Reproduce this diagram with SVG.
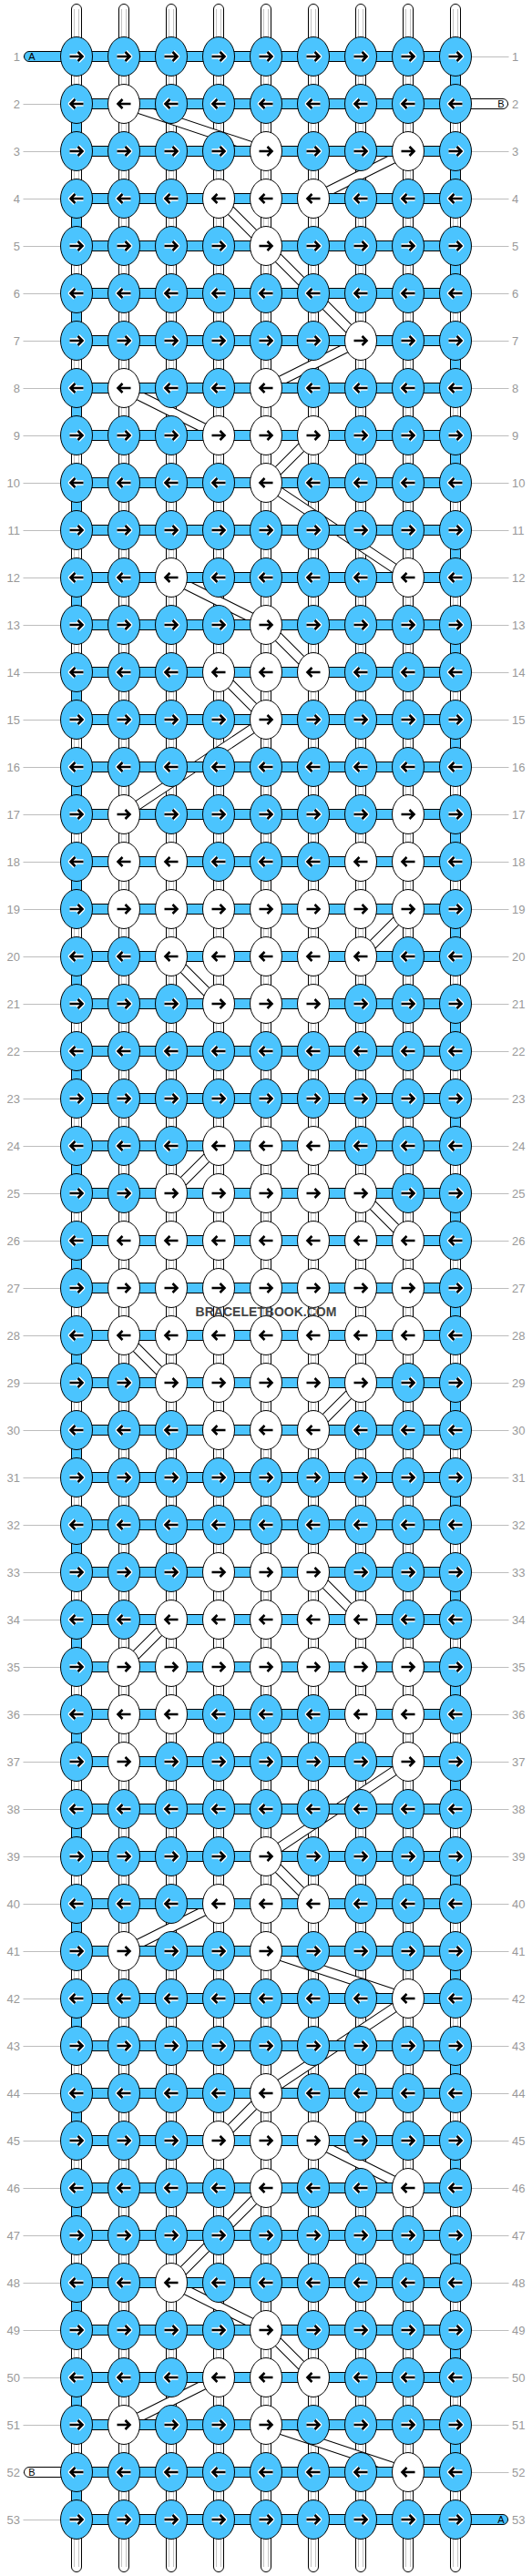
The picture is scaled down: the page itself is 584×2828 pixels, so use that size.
<svg xmlns="http://www.w3.org/2000/svg" xmlns:xlink="http://www.w3.org/1999/xlink" width="584" height="2828" viewBox="0 0 584 2828">
<style>
.kb{fill:#4bc4fe;stroke:#000;stroke-width:1}
.kw{fill:#fff;stroke:#000;stroke-width:1}
.a{fill:none;stroke:#000;stroke-width:2.6}
.ah{fill:none;stroke:#fff;stroke-width:5.4;stroke-linejoin:round}
.ws{fill:#fff;stroke:#000;stroke-width:1}
.wl{fill:none;stroke:#c4c4c4;stroke-width:1}
.hb{fill:#4bc4fe;stroke:#000;stroke-width:1}
.wb{fill:#fff;stroke:#000;stroke-width:1}
.bo{fill:none;stroke:#000;stroke-width:11}
.bi{fill:none;stroke:#fff;stroke-width:9}
.gl{fill:none;stroke:#bdbdbd;stroke-width:41;stroke-dasharray:1 51}
.ll{font-family:"Liberation Sans",Arial,sans-serif;font-size:13px;fill:#999;text-anchor:end}
.lr{font-family:"Liberation Sans",Arial,sans-serif;font-size:13px;fill:#999;text-anchor:start}
.ab{font-family:"Liberation Sans",Arial,sans-serif;font-size:11px;fill:#000;text-anchor:middle}
.wm{font-family:"Liberation Sans",Arial,sans-serif;font-size:14px;font-weight:bold;fill:#444;text-anchor:middle}
</style>
<defs>
<g id="BR"><ellipse class="kb" rx="17.5" ry="21.5"/><path class="ah" d="M-7.5,0H6M1.5,-5L6.5,0L1.5,5"/><path class="a" d="M-7.5,0H6M1.5,-5L6.5,0L1.5,5"/></g>
<g id="BL"><ellipse class="kb" rx="17.5" ry="21.5"/><path class="ah" d="M7.5,0H-6M-1.5,-5L-6.5,0L-1.5,5"/><path class="a" d="M7.5,0H-6M-1.5,-5L-6.5,0L-1.5,5"/></g>
<g id="WR"><ellipse class="kw" rx="17.5" ry="21.5"/><path class="a" d="M-7.5,0H6M1.5,-5L6.5,0L1.5,5"/></g>
<g id="WL"><ellipse class="kw" rx="17.5" ry="21.5"/><path class="a" d="M7.5,0H-6M-1.5,-5L-6.5,0L-1.5,5"/></g>
<rect id="tc" class="hb" width="11" height="18"/>
<path id="bp" d="M136,114L292,166M448,166L344,218M240,218L292,270M292,270L396,374M396,374L292,426M136,426L240,478M344,478L292,530M292,530L448,634M188,634L292,686M292,686L344,738M240,738L292,790M292,790L136,894M448,998L396,1050M188,1050L240,1102M240,1258L188,1310M396,1310L448,1362M136,1466L188,1518M396,1518L344,1570M344,1726L396,1778M188,1778L136,1830M448,1934L292,2038M292,2038L344,2090M240,2090L136,2142M292,2142L448,2194M448,2194L292,2298M292,2298L240,2350M344,2350L448,2402M292,2402L188,2506M188,2506L292,2558M292,2558L344,2610M240,2610L136,2662M292,2662L448,2714"/>
</defs>
<rect width="584" height="2828" fill="#fff"/>
<g id="row-labels">
<line class="gl" x1="46" y1="62" x2="46" y2="2768"/>
<line class="gl" x1="538" y1="62" x2="538" y2="2768"/>
<text class="ll" x="22" y="66.5">1</text><text class="lr" x="562" y="66.5">1</text>
<text class="ll" x="22" y="118.5">2</text><text class="lr" x="562" y="118.5">2</text>
<text class="ll" x="22" y="170.5">3</text><text class="lr" x="562" y="170.5">3</text>
<text class="ll" x="22" y="222.5">4</text><text class="lr" x="562" y="222.5">4</text>
<text class="ll" x="22" y="274.5">5</text><text class="lr" x="562" y="274.5">5</text>
<text class="ll" x="22" y="326.5">6</text><text class="lr" x="562" y="326.5">6</text>
<text class="ll" x="22" y="378.5">7</text><text class="lr" x="562" y="378.5">7</text>
<text class="ll" x="22" y="430.5">8</text><text class="lr" x="562" y="430.5">8</text>
<text class="ll" x="22" y="482.5">9</text><text class="lr" x="562" y="482.5">9</text>
<text class="ll" x="22" y="534.5">10</text><text class="lr" x="562" y="534.5">10</text>
<text class="ll" x="22" y="586.5">11</text><text class="lr" x="562" y="586.5">11</text>
<text class="ll" x="22" y="638.5">12</text><text class="lr" x="562" y="638.5">12</text>
<text class="ll" x="22" y="690.5">13</text><text class="lr" x="562" y="690.5">13</text>
<text class="ll" x="22" y="742.5">14</text><text class="lr" x="562" y="742.5">14</text>
<text class="ll" x="22" y="794.5">15</text><text class="lr" x="562" y="794.5">15</text>
<text class="ll" x="22" y="846.5">16</text><text class="lr" x="562" y="846.5">16</text>
<text class="ll" x="22" y="898.5">17</text><text class="lr" x="562" y="898.5">17</text>
<text class="ll" x="22" y="950.5">18</text><text class="lr" x="562" y="950.5">18</text>
<text class="ll" x="22" y="1002.5">19</text><text class="lr" x="562" y="1002.5">19</text>
<text class="ll" x="22" y="1054.5">20</text><text class="lr" x="562" y="1054.5">20</text>
<text class="ll" x="22" y="1106.5">21</text><text class="lr" x="562" y="1106.5">21</text>
<text class="ll" x="22" y="1158.5">22</text><text class="lr" x="562" y="1158.5">22</text>
<text class="ll" x="22" y="1210.5">23</text><text class="lr" x="562" y="1210.5">23</text>
<text class="ll" x="22" y="1262.5">24</text><text class="lr" x="562" y="1262.5">24</text>
<text class="ll" x="22" y="1314.5">25</text><text class="lr" x="562" y="1314.5">25</text>
<text class="ll" x="22" y="1366.5">26</text><text class="lr" x="562" y="1366.5">26</text>
<text class="ll" x="22" y="1418.5">27</text><text class="lr" x="562" y="1418.5">27</text>
<text class="ll" x="22" y="1470.5">28</text><text class="lr" x="562" y="1470.5">28</text>
<text class="ll" x="22" y="1522.5">29</text><text class="lr" x="562" y="1522.5">29</text>
<text class="ll" x="22" y="1574.5">30</text><text class="lr" x="562" y="1574.5">30</text>
<text class="ll" x="22" y="1626.5">31</text><text class="lr" x="562" y="1626.5">31</text>
<text class="ll" x="22" y="1678.5">32</text><text class="lr" x="562" y="1678.5">32</text>
<text class="ll" x="22" y="1730.5">33</text><text class="lr" x="562" y="1730.5">33</text>
<text class="ll" x="22" y="1782.5">34</text><text class="lr" x="562" y="1782.5">34</text>
<text class="ll" x="22" y="1834.5">35</text><text class="lr" x="562" y="1834.5">35</text>
<text class="ll" x="22" y="1886.5">36</text><text class="lr" x="562" y="1886.5">36</text>
<text class="ll" x="22" y="1938.5">37</text><text class="lr" x="562" y="1938.5">37</text>
<text class="ll" x="22" y="1990.5">38</text><text class="lr" x="562" y="1990.5">38</text>
<text class="ll" x="22" y="2042.5">39</text><text class="lr" x="562" y="2042.5">39</text>
<text class="ll" x="22" y="2094.5">40</text><text class="lr" x="562" y="2094.5">40</text>
<text class="ll" x="22" y="2146.5">41</text><text class="lr" x="562" y="2146.5">41</text>
<text class="ll" x="22" y="2198.5">42</text><text class="lr" x="562" y="2198.5">42</text>
<text class="ll" x="22" y="2250.5">43</text><text class="lr" x="562" y="2250.5">43</text>
<text class="ll" x="22" y="2302.5">44</text><text class="lr" x="562" y="2302.5">44</text>
<text class="ll" x="22" y="2354.5">45</text><text class="lr" x="562" y="2354.5">45</text>
<text class="ll" x="22" y="2406.5">46</text><text class="lr" x="562" y="2406.5">46</text>
<text class="ll" x="22" y="2458.5">47</text><text class="lr" x="562" y="2458.5">47</text>
<text class="ll" x="22" y="2510.5">48</text><text class="lr" x="562" y="2510.5">48</text>
<text class="ll" x="22" y="2562.5">49</text><text class="lr" x="562" y="2562.5">49</text>
<text class="ll" x="22" y="2614.5">50</text><text class="lr" x="562" y="2614.5">50</text>
<text class="ll" x="22" y="2666.5">51</text><text class="lr" x="562" y="2666.5">51</text>
<text class="ll" x="22" y="2718.5">52</text><text class="lr" x="562" y="2718.5">52</text>
<text class="ll" x="22" y="2770.5">53</text><text class="lr" x="562" y="2770.5">53</text>
</g>
<g id="warp-strings">
<rect class="ws" x="78.5" y="4.5" width="11" height="2819" rx="5.5"/>
<rect class="ws" x="130.5" y="4.5" width="11" height="2819" rx="5.5"/>
<rect class="ws" x="182.5" y="4.5" width="11" height="2819" rx="5.5"/>
<rect class="ws" x="234.5" y="4.5" width="11" height="2819" rx="5.5"/>
<rect class="ws" x="286.5" y="4.5" width="11" height="2819" rx="5.5"/>
<rect class="ws" x="338.5" y="4.5" width="11" height="2819" rx="5.5"/>
<rect class="ws" x="390.5" y="4.5" width="11" height="2819" rx="5.5"/>
<rect class="ws" x="442.5" y="4.5" width="11" height="2819" rx="5.5"/>
<rect class="ws" x="494.5" y="4.5" width="11" height="2819" rx="5.5"/>
<path class="wl" d="M81.5,10V2818M86.5,10V2818M133.5,10V2818M138.5,10V2818M185.5,10V2818M190.5,10V2818M237.5,10V2818M242.5,10V2818M289.5,10V2818M294.5,10V2818M341.5,10V2818M346.5,10V2818M393.5,10V2818M398.5,10V2818M445.5,10V2818M450.5,10V2818M497.5,10V2818M502.5,10V2818"/>
</g>
<g id="turns">
<use href="#tc" x="494.5" y="79"/><use href="#tc" x="494.5" y="183"/><use href="#tc" x="494.5" y="287"/><use href="#tc" x="494.5" y="391"/><use href="#tc" x="494.5" y="495"/><use href="#tc" x="494.5" y="599"/><use href="#tc" x="494.5" y="703"/><use href="#tc" x="494.5" y="807"/><use href="#tc" x="494.5" y="911"/><use href="#tc" x="494.5" y="1015"/><use href="#tc" x="494.5" y="1119"/><use href="#tc" x="494.5" y="1223"/><use href="#tc" x="494.5" y="1327"/><use href="#tc" x="494.5" y="1431"/><use href="#tc" x="494.5" y="1535"/><use href="#tc" x="494.5" y="1639"/><use href="#tc" x="494.5" y="1743"/><use href="#tc" x="494.5" y="1847"/><use href="#tc" x="494.5" y="1951"/><use href="#tc" x="494.5" y="2055"/><use href="#tc" x="494.5" y="2159"/><use href="#tc" x="494.5" y="2263"/><use href="#tc" x="494.5" y="2367"/><use href="#tc" x="494.5" y="2471"/><use href="#tc" x="494.5" y="2575"/><use href="#tc" x="494.5" y="2679"/>
<use href="#tc" x="78.5" y="131"/><use href="#tc" x="78.5" y="235"/><use href="#tc" x="78.5" y="339"/><use href="#tc" x="78.5" y="443"/><use href="#tc" x="78.5" y="547"/><use href="#tc" x="78.5" y="651"/><use href="#tc" x="78.5" y="755"/><use href="#tc" x="78.5" y="859"/><use href="#tc" x="78.5" y="963"/><use href="#tc" x="78.5" y="1067"/><use href="#tc" x="78.5" y="1171"/><use href="#tc" x="78.5" y="1275"/><use href="#tc" x="78.5" y="1379"/><use href="#tc" x="78.5" y="1483"/><use href="#tc" x="78.5" y="1587"/><use href="#tc" x="78.5" y="1691"/><use href="#tc" x="78.5" y="1795"/><use href="#tc" x="78.5" y="1899"/><use href="#tc" x="78.5" y="2003"/><use href="#tc" x="78.5" y="2107"/><use href="#tc" x="78.5" y="2211"/><use href="#tc" x="78.5" y="2315"/><use href="#tc" x="78.5" y="2419"/><use href="#tc" x="78.5" y="2523"/><use href="#tc" x="78.5" y="2627"/><use href="#tc" x="78.5" y="2731"/>
</g>
<g id="connectors">
<use href="#bp" class="bo"/>
<use href="#bp" class="bi"/>
</g>
<g id="rows">
<rect class="hb" x="84" y="56.5" width="416" height="11"/><rect class="hb" x="84" y="108.5" width="416" height="11"/><rect class="hb" x="84" y="160.5" width="416" height="11"/><rect class="hb" x="84" y="212.5" width="416" height="11"/><rect class="hb" x="84" y="264.5" width="416" height="11"/><rect class="hb" x="84" y="316.5" width="416" height="11"/><rect class="hb" x="84" y="368.5" width="416" height="11"/><rect class="hb" x="84" y="420.5" width="416" height="11"/><rect class="hb" x="84" y="472.5" width="416" height="11"/><rect class="hb" x="84" y="524.5" width="416" height="11"/><rect class="hb" x="84" y="576.5" width="416" height="11"/><rect class="hb" x="84" y="628.5" width="416" height="11"/><rect class="hb" x="84" y="680.5" width="416" height="11"/><rect class="hb" x="84" y="732.5" width="416" height="11"/><rect class="hb" x="84" y="784.5" width="416" height="11"/><rect class="hb" x="84" y="836.5" width="416" height="11"/><rect class="hb" x="84" y="888.5" width="416" height="11"/><rect class="hb" x="84" y="940.5" width="416" height="11"/><rect class="hb" x="84" y="992.5" width="416" height="11"/><rect class="hb" x="84" y="1044.5" width="416" height="11"/><rect class="hb" x="84" y="1096.5" width="416" height="11"/><rect class="hb" x="84" y="1148.5" width="416" height="11"/><rect class="hb" x="84" y="1200.5" width="416" height="11"/><rect class="hb" x="84" y="1252.5" width="416" height="11"/><rect class="hb" x="84" y="1304.5" width="416" height="11"/><rect class="hb" x="84" y="1356.5" width="416" height="11"/><rect class="hb" x="84" y="1408.5" width="416" height="11"/><rect class="hb" x="84" y="1460.5" width="416" height="11"/><rect class="hb" x="84" y="1512.5" width="416" height="11"/><rect class="hb" x="84" y="1564.5" width="416" height="11"/><rect class="hb" x="84" y="1616.5" width="416" height="11"/><rect class="hb" x="84" y="1668.5" width="416" height="11"/><rect class="hb" x="84" y="1720.5" width="416" height="11"/><rect class="hb" x="84" y="1772.5" width="416" height="11"/><rect class="hb" x="84" y="1824.5" width="416" height="11"/><rect class="hb" x="84" y="1876.5" width="416" height="11"/><rect class="hb" x="84" y="1928.5" width="416" height="11"/><rect class="hb" x="84" y="1980.5" width="416" height="11"/><rect class="hb" x="84" y="2032.5" width="416" height="11"/><rect class="hb" x="84" y="2084.5" width="416" height="11"/><rect class="hb" x="84" y="2136.5" width="416" height="11"/><rect class="hb" x="84" y="2188.5" width="416" height="11"/><rect class="hb" x="84" y="2240.5" width="416" height="11"/><rect class="hb" x="84" y="2292.5" width="416" height="11"/><rect class="hb" x="84" y="2344.5" width="416" height="11"/><rect class="hb" x="84" y="2396.5" width="416" height="11"/><rect class="hb" x="84" y="2448.5" width="416" height="11"/><rect class="hb" x="84" y="2500.5" width="416" height="11"/><rect class="hb" x="84" y="2552.5" width="416" height="11"/><rect class="hb" x="84" y="2604.5" width="416" height="11"/><rect class="hb" x="84" y="2656.5" width="416" height="11"/><rect class="hb" x="84" y="2708.5" width="416" height="11"/><rect class="hb" x="84" y="2760.5" width="416" height="11"/>
</g>
<g id="string-A-start"><rect class="hb" x="26.5" y="56.5" width="64" height="11" rx="5.5"/><text class="ab" x="35" y="66">A</text></g>
<g id="string-B-start"><rect class="wb" x="493.5" y="108.5" width="64" height="11" rx="5.5"/><text class="ab" x="550" y="118">B</text></g>
<g id="string-B-end"><rect class="wb" x="26.5" y="2708.5" width="64" height="11" rx="5.5"/><text class="ab" x="35" y="2718">B</text></g>
<g id="string-A-end"><rect class="hb" x="493.5" y="2760.5" width="64" height="11" rx="5.5"/><text class="ab" x="550" y="2770">A</text></g>
<g id="knots">
<g id="k1-1"><use href="#BR" x="84" y="62"/></g><g id="k1-2"><use href="#BR" x="136" y="62"/></g><g id="k1-3"><use href="#BR" x="188" y="62"/></g><g id="k1-4"><use href="#BR" x="240" y="62"/></g><g id="k1-5"><use href="#BR" x="292" y="62"/></g><g id="k1-6"><use href="#BR" x="344" y="62"/></g><g id="k1-7"><use href="#BR" x="396" y="62"/></g><g id="k1-8"><use href="#BR" x="448" y="62"/></g><g id="k1-9"><use href="#BR" x="500" y="62"/></g>
<g id="k2-1"><use href="#BL" x="84" y="114"/></g><g id="k2-2"><use href="#WL" x="136" y="114"/></g><g id="k2-3"><use href="#BL" x="188" y="114"/></g><g id="k2-4"><use href="#BL" x="240" y="114"/></g><g id="k2-5"><use href="#BL" x="292" y="114"/></g><g id="k2-6"><use href="#BL" x="344" y="114"/></g><g id="k2-7"><use href="#BL" x="396" y="114"/></g><g id="k2-8"><use href="#BL" x="448" y="114"/></g><g id="k2-9"><use href="#BL" x="500" y="114"/></g>
<g id="k3-1"><use href="#BR" x="84" y="166"/></g><g id="k3-2"><use href="#BR" x="136" y="166"/></g><g id="k3-3"><use href="#BR" x="188" y="166"/></g><g id="k3-4"><use href="#BR" x="240" y="166"/></g><g id="k3-5"><use href="#WR" x="292" y="166"/></g><g id="k3-6"><use href="#BR" x="344" y="166"/></g><g id="k3-7"><use href="#BR" x="396" y="166"/></g><g id="k3-8"><use href="#WR" x="448" y="166"/></g><g id="k3-9"><use href="#BR" x="500" y="166"/></g>
<g id="k4-1"><use href="#BL" x="84" y="218"/></g><g id="k4-2"><use href="#BL" x="136" y="218"/></g><g id="k4-3"><use href="#BL" x="188" y="218"/></g><g id="k4-4"><use href="#WL" x="240" y="218"/></g><g id="k4-5"><use href="#WL" x="292" y="218"/></g><g id="k4-6"><use href="#WL" x="344" y="218"/></g><g id="k4-7"><use href="#BL" x="396" y="218"/></g><g id="k4-8"><use href="#BL" x="448" y="218"/></g><g id="k4-9"><use href="#BL" x="500" y="218"/></g>
<g id="k5-1"><use href="#BR" x="84" y="270"/></g><g id="k5-2"><use href="#BR" x="136" y="270"/></g><g id="k5-3"><use href="#BR" x="188" y="270"/></g><g id="k5-4"><use href="#BR" x="240" y="270"/></g><g id="k5-5"><use href="#WR" x="292" y="270"/></g><g id="k5-6"><use href="#BR" x="344" y="270"/></g><g id="k5-7"><use href="#BR" x="396" y="270"/></g><g id="k5-8"><use href="#BR" x="448" y="270"/></g><g id="k5-9"><use href="#BR" x="500" y="270"/></g>
<g id="k6-1"><use href="#BL" x="84" y="322"/></g><g id="k6-2"><use href="#BL" x="136" y="322"/></g><g id="k6-3"><use href="#BL" x="188" y="322"/></g><g id="k6-4"><use href="#BL" x="240" y="322"/></g><g id="k6-5"><use href="#BL" x="292" y="322"/></g><g id="k6-6"><use href="#BL" x="344" y="322"/></g><g id="k6-7"><use href="#BL" x="396" y="322"/></g><g id="k6-8"><use href="#BL" x="448" y="322"/></g><g id="k6-9"><use href="#BL" x="500" y="322"/></g>
<g id="k7-1"><use href="#BR" x="84" y="374"/></g><g id="k7-2"><use href="#BR" x="136" y="374"/></g><g id="k7-3"><use href="#BR" x="188" y="374"/></g><g id="k7-4"><use href="#BR" x="240" y="374"/></g><g id="k7-5"><use href="#BR" x="292" y="374"/></g><g id="k7-6"><use href="#BR" x="344" y="374"/></g><g id="k7-7"><use href="#WR" x="396" y="374"/></g><g id="k7-8"><use href="#BR" x="448" y="374"/></g><g id="k7-9"><use href="#BR" x="500" y="374"/></g>
<g id="k8-1"><use href="#BL" x="84" y="426"/></g><g id="k8-2"><use href="#WL" x="136" y="426"/></g><g id="k8-3"><use href="#BL" x="188" y="426"/></g><g id="k8-4"><use href="#BL" x="240" y="426"/></g><g id="k8-5"><use href="#WL" x="292" y="426"/></g><g id="k8-6"><use href="#BL" x="344" y="426"/></g><g id="k8-7"><use href="#BL" x="396" y="426"/></g><g id="k8-8"><use href="#BL" x="448" y="426"/></g><g id="k8-9"><use href="#BL" x="500" y="426"/></g>
<g id="k9-1"><use href="#BR" x="84" y="478"/></g><g id="k9-2"><use href="#BR" x="136" y="478"/></g><g id="k9-3"><use href="#BR" x="188" y="478"/></g><g id="k9-4"><use href="#WR" x="240" y="478"/></g><g id="k9-5"><use href="#WR" x="292" y="478"/></g><g id="k9-6"><use href="#WR" x="344" y="478"/></g><g id="k9-7"><use href="#BR" x="396" y="478"/></g><g id="k9-8"><use href="#BR" x="448" y="478"/></g><g id="k9-9"><use href="#BR" x="500" y="478"/></g>
<g id="k10-1"><use href="#BL" x="84" y="530"/></g><g id="k10-2"><use href="#BL" x="136" y="530"/></g><g id="k10-3"><use href="#BL" x="188" y="530"/></g><g id="k10-4"><use href="#BL" x="240" y="530"/></g><g id="k10-5"><use href="#WL" x="292" y="530"/></g><g id="k10-6"><use href="#BL" x="344" y="530"/></g><g id="k10-7"><use href="#BL" x="396" y="530"/></g><g id="k10-8"><use href="#BL" x="448" y="530"/></g><g id="k10-9"><use href="#BL" x="500" y="530"/></g>
<g id="k11-1"><use href="#BR" x="84" y="582"/></g><g id="k11-2"><use href="#BR" x="136" y="582"/></g><g id="k11-3"><use href="#BR" x="188" y="582"/></g><g id="k11-4"><use href="#BR" x="240" y="582"/></g><g id="k11-5"><use href="#BR" x="292" y="582"/></g><g id="k11-6"><use href="#BR" x="344" y="582"/></g><g id="k11-7"><use href="#BR" x="396" y="582"/></g><g id="k11-8"><use href="#BR" x="448" y="582"/></g><g id="k11-9"><use href="#BR" x="500" y="582"/></g>
<g id="k12-1"><use href="#BL" x="84" y="634"/></g><g id="k12-2"><use href="#BL" x="136" y="634"/></g><g id="k12-3"><use href="#WL" x="188" y="634"/></g><g id="k12-4"><use href="#BL" x="240" y="634"/></g><g id="k12-5"><use href="#BL" x="292" y="634"/></g><g id="k12-6"><use href="#BL" x="344" y="634"/></g><g id="k12-7"><use href="#BL" x="396" y="634"/></g><g id="k12-8"><use href="#WL" x="448" y="634"/></g><g id="k12-9"><use href="#BL" x="500" y="634"/></g>
<g id="k13-1"><use href="#BR" x="84" y="686"/></g><g id="k13-2"><use href="#BR" x="136" y="686"/></g><g id="k13-3"><use href="#BR" x="188" y="686"/></g><g id="k13-4"><use href="#BR" x="240" y="686"/></g><g id="k13-5"><use href="#WR" x="292" y="686"/></g><g id="k13-6"><use href="#BR" x="344" y="686"/></g><g id="k13-7"><use href="#BR" x="396" y="686"/></g><g id="k13-8"><use href="#BR" x="448" y="686"/></g><g id="k13-9"><use href="#BR" x="500" y="686"/></g>
<g id="k14-1"><use href="#BL" x="84" y="738"/></g><g id="k14-2"><use href="#BL" x="136" y="738"/></g><g id="k14-3"><use href="#BL" x="188" y="738"/></g><g id="k14-4"><use href="#WL" x="240" y="738"/></g><g id="k14-5"><use href="#WL" x="292" y="738"/></g><g id="k14-6"><use href="#WL" x="344" y="738"/></g><g id="k14-7"><use href="#BL" x="396" y="738"/></g><g id="k14-8"><use href="#BL" x="448" y="738"/></g><g id="k14-9"><use href="#BL" x="500" y="738"/></g>
<g id="k15-1"><use href="#BR" x="84" y="790"/></g><g id="k15-2"><use href="#BR" x="136" y="790"/></g><g id="k15-3"><use href="#BR" x="188" y="790"/></g><g id="k15-4"><use href="#BR" x="240" y="790"/></g><g id="k15-5"><use href="#WR" x="292" y="790"/></g><g id="k15-6"><use href="#BR" x="344" y="790"/></g><g id="k15-7"><use href="#BR" x="396" y="790"/></g><g id="k15-8"><use href="#BR" x="448" y="790"/></g><g id="k15-9"><use href="#BR" x="500" y="790"/></g>
<g id="k16-1"><use href="#BL" x="84" y="842"/></g><g id="k16-2"><use href="#BL" x="136" y="842"/></g><g id="k16-3"><use href="#BL" x="188" y="842"/></g><g id="k16-4"><use href="#BL" x="240" y="842"/></g><g id="k16-5"><use href="#BL" x="292" y="842"/></g><g id="k16-6"><use href="#BL" x="344" y="842"/></g><g id="k16-7"><use href="#BL" x="396" y="842"/></g><g id="k16-8"><use href="#BL" x="448" y="842"/></g><g id="k16-9"><use href="#BL" x="500" y="842"/></g>
<g id="k17-1"><use href="#BR" x="84" y="894"/></g><g id="k17-2"><use href="#WR" x="136" y="894"/></g><g id="k17-3"><use href="#BR" x="188" y="894"/></g><g id="k17-4"><use href="#BR" x="240" y="894"/></g><g id="k17-5"><use href="#BR" x="292" y="894"/></g><g id="k17-6"><use href="#BR" x="344" y="894"/></g><g id="k17-7"><use href="#BR" x="396" y="894"/></g><g id="k17-8"><use href="#WR" x="448" y="894"/></g><g id="k17-9"><use href="#BR" x="500" y="894"/></g>
<g id="k18-1"><use href="#BL" x="84" y="946"/></g><g id="k18-2"><use href="#WL" x="136" y="946"/></g><g id="k18-3"><use href="#WL" x="188" y="946"/></g><g id="k18-4"><use href="#BL" x="240" y="946"/></g><g id="k18-5"><use href="#BL" x="292" y="946"/></g><g id="k18-6"><use href="#BL" x="344" y="946"/></g><g id="k18-7"><use href="#WL" x="396" y="946"/></g><g id="k18-8"><use href="#WL" x="448" y="946"/></g><g id="k18-9"><use href="#BL" x="500" y="946"/></g>
<g id="k19-1"><use href="#BR" x="84" y="998"/></g><g id="k19-2"><use href="#WR" x="136" y="998"/></g><g id="k19-3"><use href="#WR" x="188" y="998"/></g><g id="k19-4"><use href="#WR" x="240" y="998"/></g><g id="k19-5"><use href="#WR" x="292" y="998"/></g><g id="k19-6"><use href="#WR" x="344" y="998"/></g><g id="k19-7"><use href="#WR" x="396" y="998"/></g><g id="k19-8"><use href="#WR" x="448" y="998"/></g><g id="k19-9"><use href="#BR" x="500" y="998"/></g>
<g id="k20-1"><use href="#BL" x="84" y="1050"/></g><g id="k20-2"><use href="#BL" x="136" y="1050"/></g><g id="k20-3"><use href="#WL" x="188" y="1050"/></g><g id="k20-4"><use href="#WL" x="240" y="1050"/></g><g id="k20-5"><use href="#WL" x="292" y="1050"/></g><g id="k20-6"><use href="#WL" x="344" y="1050"/></g><g id="k20-7"><use href="#WL" x="396" y="1050"/></g><g id="k20-8"><use href="#BL" x="448" y="1050"/></g><g id="k20-9"><use href="#BL" x="500" y="1050"/></g>
<g id="k21-1"><use href="#BR" x="84" y="1102"/></g><g id="k21-2"><use href="#BR" x="136" y="1102"/></g><g id="k21-3"><use href="#BR" x="188" y="1102"/></g><g id="k21-4"><use href="#WR" x="240" y="1102"/></g><g id="k21-5"><use href="#WR" x="292" y="1102"/></g><g id="k21-6"><use href="#WR" x="344" y="1102"/></g><g id="k21-7"><use href="#BR" x="396" y="1102"/></g><g id="k21-8"><use href="#BR" x="448" y="1102"/></g><g id="k21-9"><use href="#BR" x="500" y="1102"/></g>
<g id="k22-1"><use href="#BL" x="84" y="1154"/></g><g id="k22-2"><use href="#BL" x="136" y="1154"/></g><g id="k22-3"><use href="#BL" x="188" y="1154"/></g><g id="k22-4"><use href="#BL" x="240" y="1154"/></g><g id="k22-5"><use href="#BL" x="292" y="1154"/></g><g id="k22-6"><use href="#BL" x="344" y="1154"/></g><g id="k22-7"><use href="#BL" x="396" y="1154"/></g><g id="k22-8"><use href="#BL" x="448" y="1154"/></g><g id="k22-9"><use href="#BL" x="500" y="1154"/></g>
<g id="k23-1"><use href="#BR" x="84" y="1206"/></g><g id="k23-2"><use href="#BR" x="136" y="1206"/></g><g id="k23-3"><use href="#BR" x="188" y="1206"/></g><g id="k23-4"><use href="#BR" x="240" y="1206"/></g><g id="k23-5"><use href="#BR" x="292" y="1206"/></g><g id="k23-6"><use href="#BR" x="344" y="1206"/></g><g id="k23-7"><use href="#BR" x="396" y="1206"/></g><g id="k23-8"><use href="#BR" x="448" y="1206"/></g><g id="k23-9"><use href="#BR" x="500" y="1206"/></g>
<g id="k24-1"><use href="#BL" x="84" y="1258"/></g><g id="k24-2"><use href="#BL" x="136" y="1258"/></g><g id="k24-3"><use href="#BL" x="188" y="1258"/></g><g id="k24-4"><use href="#WL" x="240" y="1258"/></g><g id="k24-5"><use href="#WL" x="292" y="1258"/></g><g id="k24-6"><use href="#WL" x="344" y="1258"/></g><g id="k24-7"><use href="#BL" x="396" y="1258"/></g><g id="k24-8"><use href="#BL" x="448" y="1258"/></g><g id="k24-9"><use href="#BL" x="500" y="1258"/></g>
<g id="k25-1"><use href="#BR" x="84" y="1310"/></g><g id="k25-2"><use href="#BR" x="136" y="1310"/></g><g id="k25-3"><use href="#WR" x="188" y="1310"/></g><g id="k25-4"><use href="#WR" x="240" y="1310"/></g><g id="k25-5"><use href="#WR" x="292" y="1310"/></g><g id="k25-6"><use href="#WR" x="344" y="1310"/></g><g id="k25-7"><use href="#WR" x="396" y="1310"/></g><g id="k25-8"><use href="#BR" x="448" y="1310"/></g><g id="k25-9"><use href="#BR" x="500" y="1310"/></g>
<g id="k26-1"><use href="#BL" x="84" y="1362"/></g><g id="k26-2"><use href="#WL" x="136" y="1362"/></g><g id="k26-3"><use href="#WL" x="188" y="1362"/></g><g id="k26-4"><use href="#WL" x="240" y="1362"/></g><g id="k26-5"><use href="#WL" x="292" y="1362"/></g><g id="k26-6"><use href="#WL" x="344" y="1362"/></g><g id="k26-7"><use href="#WL" x="396" y="1362"/></g><g id="k26-8"><use href="#WL" x="448" y="1362"/></g><g id="k26-9"><use href="#BL" x="500" y="1362"/></g>
<g id="k27-1"><use href="#BR" x="84" y="1414"/></g><g id="k27-2"><use href="#WR" x="136" y="1414"/></g><g id="k27-3"><use href="#WR" x="188" y="1414"/></g><g id="k27-4"><use href="#WR" x="240" y="1414"/></g><g id="k27-5"><use href="#WR" x="292" y="1414"/></g><g id="k27-6"><use href="#WR" x="344" y="1414"/></g><g id="k27-7"><use href="#WR" x="396" y="1414"/></g><g id="k27-8"><use href="#WR" x="448" y="1414"/></g><g id="k27-9"><use href="#BR" x="500" y="1414"/></g>
<g id="k28-1"><use href="#BL" x="84" y="1466"/></g><g id="k28-2"><use href="#WL" x="136" y="1466"/></g><g id="k28-3"><use href="#WL" x="188" y="1466"/></g><g id="k28-4"><use href="#WL" x="240" y="1466"/></g><g id="k28-5"><use href="#WL" x="292" y="1466"/></g><g id="k28-6"><use href="#WL" x="344" y="1466"/></g><g id="k28-7"><use href="#WL" x="396" y="1466"/></g><g id="k28-8"><use href="#WL" x="448" y="1466"/></g><g id="k28-9"><use href="#BL" x="500" y="1466"/></g>
<g id="k29-1"><use href="#BR" x="84" y="1518"/></g><g id="k29-2"><use href="#BR" x="136" y="1518"/></g><g id="k29-3"><use href="#WR" x="188" y="1518"/></g><g id="k29-4"><use href="#WR" x="240" y="1518"/></g><g id="k29-5"><use href="#WR" x="292" y="1518"/></g><g id="k29-6"><use href="#WR" x="344" y="1518"/></g><g id="k29-7"><use href="#WR" x="396" y="1518"/></g><g id="k29-8"><use href="#BR" x="448" y="1518"/></g><g id="k29-9"><use href="#BR" x="500" y="1518"/></g>
<g id="k30-1"><use href="#BL" x="84" y="1570"/></g><g id="k30-2"><use href="#BL" x="136" y="1570"/></g><g id="k30-3"><use href="#BL" x="188" y="1570"/></g><g id="k30-4"><use href="#WL" x="240" y="1570"/></g><g id="k30-5"><use href="#WL" x="292" y="1570"/></g><g id="k30-6"><use href="#WL" x="344" y="1570"/></g><g id="k30-7"><use href="#BL" x="396" y="1570"/></g><g id="k30-8"><use href="#BL" x="448" y="1570"/></g><g id="k30-9"><use href="#BL" x="500" y="1570"/></g>
<g id="k31-1"><use href="#BR" x="84" y="1622"/></g><g id="k31-2"><use href="#BR" x="136" y="1622"/></g><g id="k31-3"><use href="#BR" x="188" y="1622"/></g><g id="k31-4"><use href="#BR" x="240" y="1622"/></g><g id="k31-5"><use href="#BR" x="292" y="1622"/></g><g id="k31-6"><use href="#BR" x="344" y="1622"/></g><g id="k31-7"><use href="#BR" x="396" y="1622"/></g><g id="k31-8"><use href="#BR" x="448" y="1622"/></g><g id="k31-9"><use href="#BR" x="500" y="1622"/></g>
<g id="k32-1"><use href="#BL" x="84" y="1674"/></g><g id="k32-2"><use href="#BL" x="136" y="1674"/></g><g id="k32-3"><use href="#BL" x="188" y="1674"/></g><g id="k32-4"><use href="#BL" x="240" y="1674"/></g><g id="k32-5"><use href="#BL" x="292" y="1674"/></g><g id="k32-6"><use href="#BL" x="344" y="1674"/></g><g id="k32-7"><use href="#BL" x="396" y="1674"/></g><g id="k32-8"><use href="#BL" x="448" y="1674"/></g><g id="k32-9"><use href="#BL" x="500" y="1674"/></g>
<g id="k33-1"><use href="#BR" x="84" y="1726"/></g><g id="k33-2"><use href="#BR" x="136" y="1726"/></g><g id="k33-3"><use href="#BR" x="188" y="1726"/></g><g id="k33-4"><use href="#WR" x="240" y="1726"/></g><g id="k33-5"><use href="#WR" x="292" y="1726"/></g><g id="k33-6"><use href="#WR" x="344" y="1726"/></g><g id="k33-7"><use href="#BR" x="396" y="1726"/></g><g id="k33-8"><use href="#BR" x="448" y="1726"/></g><g id="k33-9"><use href="#BR" x="500" y="1726"/></g>
<g id="k34-1"><use href="#BL" x="84" y="1778"/></g><g id="k34-2"><use href="#BL" x="136" y="1778"/></g><g id="k34-3"><use href="#WL" x="188" y="1778"/></g><g id="k34-4"><use href="#WL" x="240" y="1778"/></g><g id="k34-5"><use href="#WL" x="292" y="1778"/></g><g id="k34-6"><use href="#WL" x="344" y="1778"/></g><g id="k34-7"><use href="#WL" x="396" y="1778"/></g><g id="k34-8"><use href="#BL" x="448" y="1778"/></g><g id="k34-9"><use href="#BL" x="500" y="1778"/></g>
<g id="k35-1"><use href="#BR" x="84" y="1830"/></g><g id="k35-2"><use href="#WR" x="136" y="1830"/></g><g id="k35-3"><use href="#WR" x="188" y="1830"/></g><g id="k35-4"><use href="#WR" x="240" y="1830"/></g><g id="k35-5"><use href="#WR" x="292" y="1830"/></g><g id="k35-6"><use href="#WR" x="344" y="1830"/></g><g id="k35-7"><use href="#WR" x="396" y="1830"/></g><g id="k35-8"><use href="#WR" x="448" y="1830"/></g><g id="k35-9"><use href="#BR" x="500" y="1830"/></g>
<g id="k36-1"><use href="#BL" x="84" y="1882"/></g><g id="k36-2"><use href="#WL" x="136" y="1882"/></g><g id="k36-3"><use href="#WL" x="188" y="1882"/></g><g id="k36-4"><use href="#BL" x="240" y="1882"/></g><g id="k36-5"><use href="#BL" x="292" y="1882"/></g><g id="k36-6"><use href="#BL" x="344" y="1882"/></g><g id="k36-7"><use href="#WL" x="396" y="1882"/></g><g id="k36-8"><use href="#WL" x="448" y="1882"/></g><g id="k36-9"><use href="#BL" x="500" y="1882"/></g>
<g id="k37-1"><use href="#BR" x="84" y="1934"/></g><g id="k37-2"><use href="#WR" x="136" y="1934"/></g><g id="k37-3"><use href="#BR" x="188" y="1934"/></g><g id="k37-4"><use href="#BR" x="240" y="1934"/></g><g id="k37-5"><use href="#BR" x="292" y="1934"/></g><g id="k37-6"><use href="#BR" x="344" y="1934"/></g><g id="k37-7"><use href="#BR" x="396" y="1934"/></g><g id="k37-8"><use href="#WR" x="448" y="1934"/></g><g id="k37-9"><use href="#BR" x="500" y="1934"/></g>
<g id="k38-1"><use href="#BL" x="84" y="1986"/></g><g id="k38-2"><use href="#BL" x="136" y="1986"/></g><g id="k38-3"><use href="#BL" x="188" y="1986"/></g><g id="k38-4"><use href="#BL" x="240" y="1986"/></g><g id="k38-5"><use href="#BL" x="292" y="1986"/></g><g id="k38-6"><use href="#BL" x="344" y="1986"/></g><g id="k38-7"><use href="#BL" x="396" y="1986"/></g><g id="k38-8"><use href="#BL" x="448" y="1986"/></g><g id="k38-9"><use href="#BL" x="500" y="1986"/></g>
<g id="k39-1"><use href="#BR" x="84" y="2038"/></g><g id="k39-2"><use href="#BR" x="136" y="2038"/></g><g id="k39-3"><use href="#BR" x="188" y="2038"/></g><g id="k39-4"><use href="#BR" x="240" y="2038"/></g><g id="k39-5"><use href="#WR" x="292" y="2038"/></g><g id="k39-6"><use href="#BR" x="344" y="2038"/></g><g id="k39-7"><use href="#BR" x="396" y="2038"/></g><g id="k39-8"><use href="#BR" x="448" y="2038"/></g><g id="k39-9"><use href="#BR" x="500" y="2038"/></g>
<g id="k40-1"><use href="#BL" x="84" y="2090"/></g><g id="k40-2"><use href="#BL" x="136" y="2090"/></g><g id="k40-3"><use href="#BL" x="188" y="2090"/></g><g id="k40-4"><use href="#WL" x="240" y="2090"/></g><g id="k40-5"><use href="#WL" x="292" y="2090"/></g><g id="k40-6"><use href="#WL" x="344" y="2090"/></g><g id="k40-7"><use href="#BL" x="396" y="2090"/></g><g id="k40-8"><use href="#BL" x="448" y="2090"/></g><g id="k40-9"><use href="#BL" x="500" y="2090"/></g>
<g id="k41-1"><use href="#BR" x="84" y="2142"/></g><g id="k41-2"><use href="#WR" x="136" y="2142"/></g><g id="k41-3"><use href="#BR" x="188" y="2142"/></g><g id="k41-4"><use href="#BR" x="240" y="2142"/></g><g id="k41-5"><use href="#WR" x="292" y="2142"/></g><g id="k41-6"><use href="#BR" x="344" y="2142"/></g><g id="k41-7"><use href="#BR" x="396" y="2142"/></g><g id="k41-8"><use href="#BR" x="448" y="2142"/></g><g id="k41-9"><use href="#BR" x="500" y="2142"/></g>
<g id="k42-1"><use href="#BL" x="84" y="2194"/></g><g id="k42-2"><use href="#BL" x="136" y="2194"/></g><g id="k42-3"><use href="#BL" x="188" y="2194"/></g><g id="k42-4"><use href="#BL" x="240" y="2194"/></g><g id="k42-5"><use href="#BL" x="292" y="2194"/></g><g id="k42-6"><use href="#BL" x="344" y="2194"/></g><g id="k42-7"><use href="#BL" x="396" y="2194"/></g><g id="k42-8"><use href="#WL" x="448" y="2194"/></g><g id="k42-9"><use href="#BL" x="500" y="2194"/></g>
<g id="k43-1"><use href="#BR" x="84" y="2246"/></g><g id="k43-2"><use href="#BR" x="136" y="2246"/></g><g id="k43-3"><use href="#BR" x="188" y="2246"/></g><g id="k43-4"><use href="#BR" x="240" y="2246"/></g><g id="k43-5"><use href="#BR" x="292" y="2246"/></g><g id="k43-6"><use href="#BR" x="344" y="2246"/></g><g id="k43-7"><use href="#BR" x="396" y="2246"/></g><g id="k43-8"><use href="#BR" x="448" y="2246"/></g><g id="k43-9"><use href="#BR" x="500" y="2246"/></g>
<g id="k44-1"><use href="#BL" x="84" y="2298"/></g><g id="k44-2"><use href="#BL" x="136" y="2298"/></g><g id="k44-3"><use href="#BL" x="188" y="2298"/></g><g id="k44-4"><use href="#BL" x="240" y="2298"/></g><g id="k44-5"><use href="#WL" x="292" y="2298"/></g><g id="k44-6"><use href="#BL" x="344" y="2298"/></g><g id="k44-7"><use href="#BL" x="396" y="2298"/></g><g id="k44-8"><use href="#BL" x="448" y="2298"/></g><g id="k44-9"><use href="#BL" x="500" y="2298"/></g>
<g id="k45-1"><use href="#BR" x="84" y="2350"/></g><g id="k45-2"><use href="#BR" x="136" y="2350"/></g><g id="k45-3"><use href="#BR" x="188" y="2350"/></g><g id="k45-4"><use href="#WR" x="240" y="2350"/></g><g id="k45-5"><use href="#WR" x="292" y="2350"/></g><g id="k45-6"><use href="#WR" x="344" y="2350"/></g><g id="k45-7"><use href="#BR" x="396" y="2350"/></g><g id="k45-8"><use href="#BR" x="448" y="2350"/></g><g id="k45-9"><use href="#BR" x="500" y="2350"/></g>
<g id="k46-1"><use href="#BL" x="84" y="2402"/></g><g id="k46-2"><use href="#BL" x="136" y="2402"/></g><g id="k46-3"><use href="#BL" x="188" y="2402"/></g><g id="k46-4"><use href="#BL" x="240" y="2402"/></g><g id="k46-5"><use href="#WL" x="292" y="2402"/></g><g id="k46-6"><use href="#BL" x="344" y="2402"/></g><g id="k46-7"><use href="#BL" x="396" y="2402"/></g><g id="k46-8"><use href="#WL" x="448" y="2402"/></g><g id="k46-9"><use href="#BL" x="500" y="2402"/></g>
<g id="k47-1"><use href="#BR" x="84" y="2454"/></g><g id="k47-2"><use href="#BR" x="136" y="2454"/></g><g id="k47-3"><use href="#BR" x="188" y="2454"/></g><g id="k47-4"><use href="#BR" x="240" y="2454"/></g><g id="k47-5"><use href="#BR" x="292" y="2454"/></g><g id="k47-6"><use href="#BR" x="344" y="2454"/></g><g id="k47-7"><use href="#BR" x="396" y="2454"/></g><g id="k47-8"><use href="#BR" x="448" y="2454"/></g><g id="k47-9"><use href="#BR" x="500" y="2454"/></g>
<g id="k48-1"><use href="#BL" x="84" y="2506"/></g><g id="k48-2"><use href="#BL" x="136" y="2506"/></g><g id="k48-3"><use href="#WL" x="188" y="2506"/></g><g id="k48-4"><use href="#BL" x="240" y="2506"/></g><g id="k48-5"><use href="#BL" x="292" y="2506"/></g><g id="k48-6"><use href="#BL" x="344" y="2506"/></g><g id="k48-7"><use href="#BL" x="396" y="2506"/></g><g id="k48-8"><use href="#BL" x="448" y="2506"/></g><g id="k48-9"><use href="#BL" x="500" y="2506"/></g>
<g id="k49-1"><use href="#BR" x="84" y="2558"/></g><g id="k49-2"><use href="#BR" x="136" y="2558"/></g><g id="k49-3"><use href="#BR" x="188" y="2558"/></g><g id="k49-4"><use href="#BR" x="240" y="2558"/></g><g id="k49-5"><use href="#WR" x="292" y="2558"/></g><g id="k49-6"><use href="#BR" x="344" y="2558"/></g><g id="k49-7"><use href="#BR" x="396" y="2558"/></g><g id="k49-8"><use href="#BR" x="448" y="2558"/></g><g id="k49-9"><use href="#BR" x="500" y="2558"/></g>
<g id="k50-1"><use href="#BL" x="84" y="2610"/></g><g id="k50-2"><use href="#BL" x="136" y="2610"/></g><g id="k50-3"><use href="#BL" x="188" y="2610"/></g><g id="k50-4"><use href="#WL" x="240" y="2610"/></g><g id="k50-5"><use href="#WL" x="292" y="2610"/></g><g id="k50-6"><use href="#WL" x="344" y="2610"/></g><g id="k50-7"><use href="#BL" x="396" y="2610"/></g><g id="k50-8"><use href="#BL" x="448" y="2610"/></g><g id="k50-9"><use href="#BL" x="500" y="2610"/></g>
<g id="k51-1"><use href="#BR" x="84" y="2662"/></g><g id="k51-2"><use href="#WR" x="136" y="2662"/></g><g id="k51-3"><use href="#BR" x="188" y="2662"/></g><g id="k51-4"><use href="#BR" x="240" y="2662"/></g><g id="k51-5"><use href="#WR" x="292" y="2662"/></g><g id="k51-6"><use href="#BR" x="344" y="2662"/></g><g id="k51-7"><use href="#BR" x="396" y="2662"/></g><g id="k51-8"><use href="#BR" x="448" y="2662"/></g><g id="k51-9"><use href="#BR" x="500" y="2662"/></g>
<g id="k52-1"><use href="#BL" x="84" y="2714"/></g><g id="k52-2"><use href="#BL" x="136" y="2714"/></g><g id="k52-3"><use href="#BL" x="188" y="2714"/></g><g id="k52-4"><use href="#BL" x="240" y="2714"/></g><g id="k52-5"><use href="#BL" x="292" y="2714"/></g><g id="k52-6"><use href="#BL" x="344" y="2714"/></g><g id="k52-7"><use href="#BL" x="396" y="2714"/></g><g id="k52-8"><use href="#WL" x="448" y="2714"/></g><g id="k52-9"><use href="#BL" x="500" y="2714"/></g>
<g id="k53-1"><use href="#BR" x="84" y="2766"/></g><g id="k53-2"><use href="#BR" x="136" y="2766"/></g><g id="k53-3"><use href="#BR" x="188" y="2766"/></g><g id="k53-4"><use href="#BR" x="240" y="2766"/></g><g id="k53-5"><use href="#BR" x="292" y="2766"/></g><g id="k53-6"><use href="#BR" x="344" y="2766"/></g><g id="k53-7"><use href="#BR" x="396" y="2766"/></g><g id="k53-8"><use href="#BR" x="448" y="2766"/></g><g id="k53-9"><use href="#BR" x="500" y="2766"/></g>
</g>
<text class="wm" x="292" y="1445">BRACELETBOOK.COM</text>
</svg>
